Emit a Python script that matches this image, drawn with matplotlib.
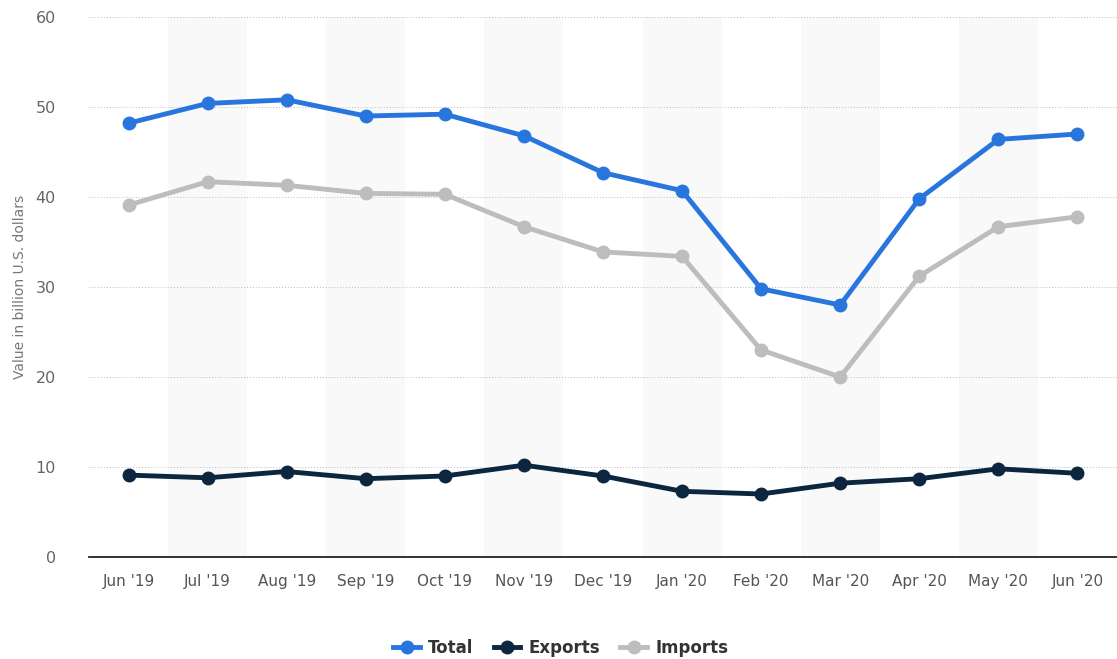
import matplotlib.pyplot as plt

months = ["Jun '19", "Jul '19", "Aug '19", "Sep '19", "Oct '19", "Nov '19", "Dec '19",
          "Jan '20", "Feb '20", "Mar '20", "Apr '20", "May '20", "Jun '20"]
total = [48.2, 50.4, 50.8, 49.0, 49.2, 46.8, 42.7, 40.7, 29.8, 28.0, 39.8, 46.4, 47.0]
exports = [9.1, 8.8, 9.5, 8.7, 9.0, 10.2, 9.0, 7.3, 7.0, 8.2, 8.7, 9.8, 9.3]
imports = [39.1, 41.7, 41.3, 40.4, 40.3, 36.7, 33.9, 33.4, 23.0, 20.0, 31.2, 36.7, 37.8]

fig = plt.figure(figsize=(11.17, 6.59), dpi=100)
ax = fig.add_axes([89 / 1117, 1 - 557 / 659, 1 - 89 / 1117, 540 / 659])

x = list(range(len(months)))

# alternating column shading
for i in x:
    if i % 2 == 1:
        ax.axvspan(i - 0.5, i + 0.5, color='#f9f9f9', zorder=0, lw=0)

ax.plot(x, total, '-o', color='#2876dd', lw=3.5, ms=9, label='Total', zorder=4)
ax.plot(x, exports, '-o', color='#0d2640', lw=3.5, ms=9, label='Exports', zorder=4)
ax.plot(x, imports, '-o', color='#bdbdbd', lw=3.5, ms=9, label='Imports', zorder=3)

ax.set_xlim(-0.5, 12.5)
ax.set_ylim(0, 60)
ax.set_yticks(range(0, 61, 10))
ax.set_xticks(x)
ax.set_xticklabels(months)
ax.grid(axis='y', linestyle=(0, (1, 2)), color='#bbbbbb', lw=0.7, zorder=1)
ax.set_axisbelow(True)

for s in ['top', 'right', 'left']:
    ax.spines[s].set_visible(False)
ax.spines['bottom'].set_color('#222222')
ax.spines['bottom'].set_linewidth(1.3)
ax.spines['bottom'].set_zorder(5)

ax.tick_params(axis='y', length=0, pad=24, labelsize=11.5, labelcolor='#666666')
ax.tick_params(axis='x', length=0, pad=12, labelsize=11, labelcolor='#555555')
ax.set_ylabel('Value in billion U.S. dollars', fontsize=10, color='#777777')
ax.yaxis.set_label_coords(-62 / 1028, 0.5)

leg = fig.legend(loc='center', bbox_to_anchor=(0.502, 1 - 648 / 659), ncol=3, frameon=False,
                 prop={'weight': 'bold', 'size': 12}, handlelength=1.6, columnspacing=1.2,
                 handletextpad=0.5)
for t in leg.get_texts():
    t.set_color('#333333')

fig.savefig('out.png', dpi=100)
